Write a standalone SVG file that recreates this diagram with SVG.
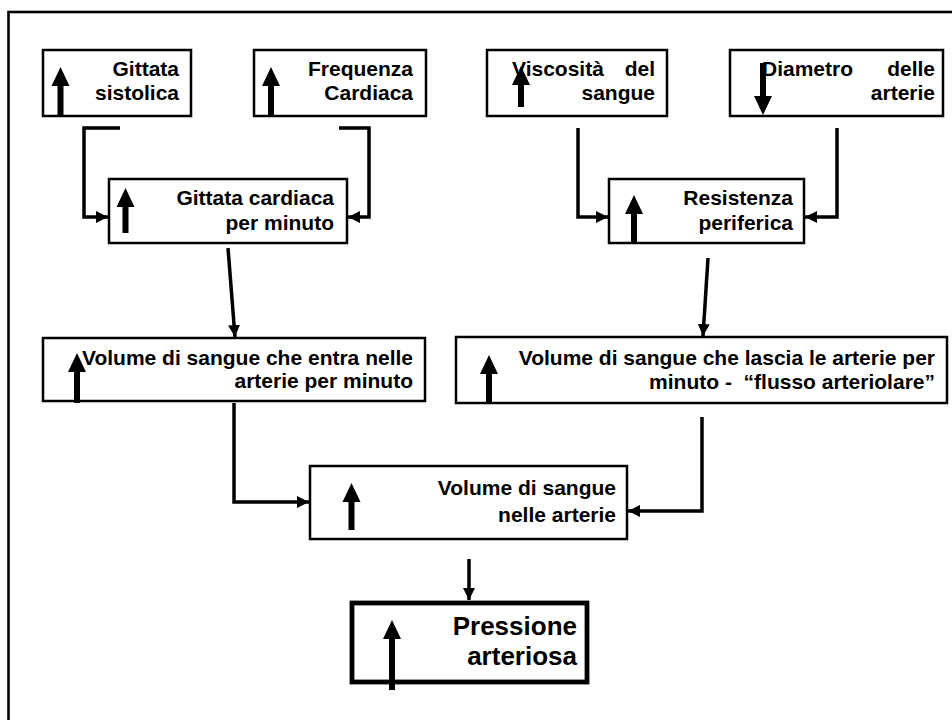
<svg xmlns="http://www.w3.org/2000/svg" width="952" height="720" viewBox="0 0 952 720">
  <defs>
    <style>
      .frame { fill: none; stroke: #000; stroke-width: 2.6; }
      .box { fill: #fff; stroke: #000; stroke-width: 2.5; }
      .box-main { fill: #fff; stroke: #000; stroke-width: 4.8; }
      .lbl { font-family: "Liberation Sans", Arial, sans-serif; font-weight: bold; font-size: 21px; fill: #000; white-space: pre; }
      .lbl-big { font-family: "Liberation Sans", Arial, sans-serif; font-weight: bold; font-size: 26px; fill: #000; }
      .end { text-anchor: end; }
      .trend { fill: #000; stroke: none; }
      .link { fill: none; stroke: #000; stroke-width: 3.5; stroke-linejoin: miter; }
    </style>
    <marker id="head" markerUnits="userSpaceOnUse" markerWidth="13" markerHeight="13" refX="12" refY="6" orient="auto">
      <path d="M0,0 L12,6 L0,12 Z" fill="#000"/>
    </marker>
  </defs>

  <rect width="952" height="720" fill="#fff"/>
  <!-- outer frame (open to the right and bottom) -->
  <rect class="frame" x="8.5" y="12" width="1000" height="800"/>

  <!-- connectors -->
  <g id="connectors">
    <polyline class="link" points="120,128 84,128 84,217 108,217" marker-end="url(#head)"/>
    <polyline class="link" points="339,128 369,128 369,217 348,217" marker-end="url(#head)"/>
    <polyline class="link" points="578,128 578,217 608,217" marker-end="url(#head)"/>
    <polyline class="link" points="837,128 837,217 805,217" marker-end="url(#head)"/>
    <line class="link" x1="228" y1="248" x2="235" y2="337" marker-end="url(#head)"/>
    <line class="link" x1="708" y1="258" x2="703" y2="336" marker-end="url(#head)"/>
    <polyline class="link" points="234,403 234,502 309,502" marker-end="url(#head)"/>
    <polyline class="link" points="702,417 702,511 628,511" marker-end="url(#head)"/>
    <line class="link" x1="469" y1="559" x2="469" y2="600" marker-end="url(#head)"/>
  </g>

  <g id="gittata-sistolica">
    <rect class="box" x="43" y="50" width="148" height="66"/>
    <text class="lbl end" x="179" y="76">Gittata</text>
    <text class="lbl end" x="179" y="100">sistolica</text>
    <path class="trend" d="M60.5,67 L69.5,86 L63.5,86 L63.5,116 L57.5,116 L57.5,86 L51.5,86 Z"/>
  </g>

  <g id="frequenza-cardiaca">
    <rect class="box" x="254" y="50" width="172" height="66"/>
    <text class="lbl end" x="413" y="76">Frequenza</text>
    <text class="lbl end" x="413" y="100">Cardiaca</text>
    <path class="trend" d="M271,67 L280,86 L274,86 L274,116 L268,116 L268,86 L262,86 Z"/>
  </g>

  <g id="viscosita">
    <rect class="box" x="487" y="50" width="180" height="66"/>
    <text class="lbl" x="512" y="76">Viscosità</text>
    <text class="lbl end" x="655" y="76">del</text>
    <text class="lbl end" x="655" y="100">sangue</text>
    <path class="trend" d="M521,66 L530,85 L524,85 L524,107 L518,107 L518,85 L512,85 Z"/>
  </g>

  <g id="diametro">
    <rect class="box" x="730" y="50" width="213" height="66"/>
    <text class="lbl" x="762" y="76">Diametro</text>
    <text class="lbl end" x="935" y="76">delle</text>
    <text class="lbl end" x="935" y="100">arterie</text>
    <path class="trend" d="M763,115 L772,96 L766,96 L766,63 L760,63 L760,96 L754,96 Z"/>
  </g>

  <g id="gittata-cardiaca">
    <rect class="box" x="109" y="179" width="238" height="64"/>
    <text class="lbl end" x="334" y="205">Gittata cardiaca</text>
    <text class="lbl end" x="334" y="230">per minuto</text>
    <path class="trend" d="M125.5,188 L134.5,207 L128.5,207 L128.5,233 L122.5,233 L122.5,207 L116.5,207 Z"/>
  </g>

  <g id="resistenza">
    <rect class="box" x="609" y="179" width="195" height="64"/>
    <text class="lbl end" x="793" y="205">Resistenza</text>
    <text class="lbl end" x="793" y="230">periferica</text>
    <path class="trend" d="M634,195 L643,214 L637,214 L637,243 L631,243 L631,214 L625,214 Z"/>
  </g>

  <g id="volume-entra">
    <rect class="box" x="43" y="338" width="382" height="63"/>
    <text class="lbl end" x="413" y="365">Volume di sangue che entra nelle</text>
    <text class="lbl end" x="413" y="388">arterie per minuto</text>
    <path class="trend" d="M77,353 L86,372 L80,372 L80,403 L74,403 L74,372 L68,372 Z"/>
  </g>

  <g id="volume-lascia">
    <rect class="box" x="456" y="337" width="491" height="66"/>
    <text class="lbl end" x="935" y="365">Volume di sangue che lascia le arterie per</text>
    <text class="lbl end" x="935" y="389">minuto -&#160; “flusso arteriolare”</text>
    <path class="trend" d="M489,355 L498,374 L492,374 L492,403 L486,403 L486,374 L480,374 Z"/>
  </g>

  <g id="volume-arterie">
    <rect class="box" x="310" y="466" width="317" height="73"/>
    <text class="lbl end" x="616" y="495">Volume di sangue</text>
    <text class="lbl end" x="616" y="522">nelle arterie</text>
    <path class="trend" d="M351.5,483 L360.5,502 L354.5,502 L354.5,530 L348.5,530 L348.5,502 L342.5,502 Z"/>
  </g>

  <g id="pressione">
    <rect class="box-main" x="352" y="603" width="235" height="79"/>
    <text class="lbl-big end" x="577" y="635">Pressione</text>
    <text class="lbl-big end" x="577" y="665">arteriosa</text>
    <path class="trend" d="M392,620 L401,639 L395,639 L395,690 L389,690 L389,639 L383,639 Z"/>
  </g>
</svg>
